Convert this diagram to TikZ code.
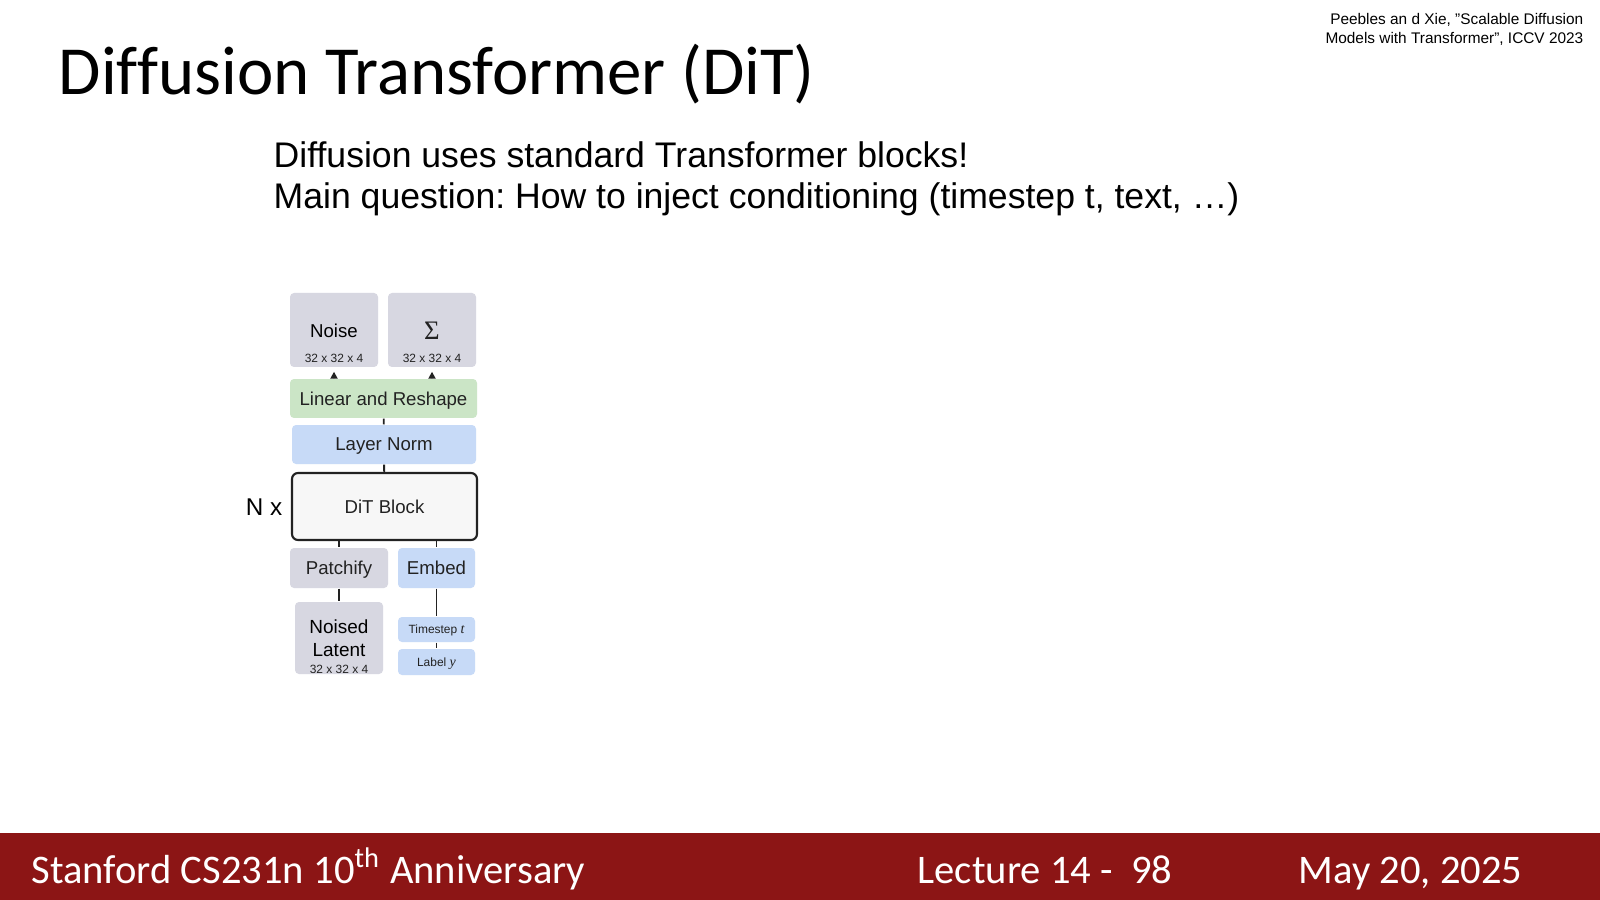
\documentclass[tikz,border=0pt]{standalone}
\usepackage{fontspec}
\setmainfont{Liberation Sans}
\newfontfamily\slidefont[Ligatures=NoCommon]{Carlito}
\newfontfamily\serifsym{Liberation Serif}
\usetikzlibrary{arrows.meta}
\frenchspacing

\definecolor{cardinal}{HTML}{8C1515}
\definecolor{latentgray}{HTML}{D7D7E1}
\definecolor{embedblue}{HTML}{C7DAF7}
\definecolor{lineargreen}{HTML}{CBE5C6}
\definecolor{blockfill}{HTML}{F7F7F7}
\definecolor{inkgray}{HTML}{222222}

\tikzset{
  box/.style={rectangle, rounded corners=0.4mm, inner sep=0pt, text=inkgray, text depth=0pt},
  graybox/.style={box, fill=latentgray},
  bluebox/.style={box, fill=embedblue},
  greenbox/.style={box, fill=lineargreen},
  boxfont/.style={font=\fontsize{5.3}{6.5}\selectfont},
  dimfont/.style={font=\fontsize{3.4}{4}\selectfont, text=inkgray, inner sep=0pt},
  smallfont/.style={font=\fontsize{3.4}{4}\selectfont},
  link/.style={draw=inkgray, line width=0.55pt},
  slidetext/.style={inner sep=0pt},
}

\begin{document}
\begin{tikzpicture}[x=0.1mm, y=-0.1mm]
			\useasboundingbox (0,0) rectangle (1600,900);
			\fill[white] (0,0) rectangle (1600,900);
			
			% Header
			\node[slidetext, anchor=base west, font=\slidefont\fontsize{19.6}{22}\selectfont] (title) at (58,95) {Diffusion Transformer (DiT)};
			\node[slidetext, anchor=base east, font=\fontsize{4.38}{5}\selectfont] (cite1) at (1584,25) {Peebles an d Xie, ”Scalable Diffusion};
			\node[slidetext, anchor=base east, font=\fontsize{4.38}{5}\selectfont] (cite2) at (1584,43.5) {Models with Transformer”, ICCV 2023};
			\node[slidetext, anchor=base west, font=\fontsize{10.13}{11.7}\selectfont] (sub1) at (273,168) {Diffusion uses standard Transformer blocks!};
			\node[slidetext, anchor=base west, font=\fontsize{10.13}{11.7}\selectfont] (sub2) at (273,209) {Main question: How to inject conditioning (timestep t, text, …)};
			
			% Outputs
			\node[graybox, minimum width=8.8mm, minimum height=7.4mm] (noise) at (334,330) {};
			\node[boxfont, inner sep=0pt] (noisetxt) at (334,331) {Noise};
			\node[dimfont] (noisedim) at (334,358.5) {32 x 32 x 4};
			\node[graybox, minimum width=8.8mm, minimum height=7.4mm] (sigma) at (432,330) {};
			\node[inner sep=0pt, text=inkgray, font=\serifsym\fontsize{7.6}{8}\selectfont] (sigmatxt) at (432,331) {Σ};
			\node[dimfont] (sigmadim) at (432,358.5) {32 x 32 x 4};
			
			% Head
			\node[greenbox, boxfont, minimum width=18.7mm, minimum height=3.9mm] (linear) at (383.5,398.5) {Linear and Reshape};
			\node[bluebox, boxfont, minimum width=18.4mm, minimum height=3.9mm] (layernorm) at (384,444.5) {Layer Norm};
			
			% Block
			\node[box, boxfont, fill=blockfill, draw=inkgray, line width=0.6pt, rounded corners=0.6mm, minimum width=18.5mm, minimum height=6.7mm] (dit) at (384.5,506.5) {DiT Block};
			\node[slidetext, font=\fontsize{6.9}{8}\selectfont] (repeat) at (264,507) {N x};
			
			% Inputs
			\node[graybox, boxfont, minimum width=9.8mm, minimum height=4mm] (patchify) at (339,568) {Patchify};
			\node[bluebox, boxfont, minimum width=7.7mm, minimum height=4mm] (embed) at (436.5,568) {Embed};
			\node[graybox, minimum width=8.8mm, minimum height=7.2mm] (noised) at (339,638) {};
			\node[boxfont, inner sep=0pt, align=center, text depth=0pt, font=\fontsize{5.4}{6.5}\selectfont] (noisedtxt) at (339,638.5) {Noised\\Latent};
			\node[dimfont] (noiseddim) at (339,669) {32 x 32 x 4};
			\node[bluebox, smallfont, minimum width=7.7mm, minimum height=2.5mm] (timestep) at (436.5,629.5) {Timestep {\serifsym\itshape\fontsize{4}{4}\selectfont t}};
			\node[bluebox, smallfont, minimum width=7.7mm, minimum height=2.6mm] (label) at (436.5,662) {Label {\serifsym\itshape\fontsize{4}{4}\selectfont y}};
			
			% Connections
			\draw[link] (linear) -- (layernorm);
			\draw[link] (layernorm) -- (dit);
			\draw[link] (dit.south -| patchify.north) -- (patchify.north);
			\draw[link] (dit.south -| embed.north) -- (embed.north);
			\draw[link] (patchify) -- (noised);
			\draw[link] (embed) -- (timestep);
			\draw[link] (timestep) -- (label);
			\draw[link, -{Triangle[length=2pt, width=2pt]}, shorten >=0.4mm] (linear.north -| noise.south) -- (noise.south);
			\draw[link, -{Triangle[length=2pt, width=2pt]}, shorten >=0.4mm] (linear.north -| sigma.south) -- (sigma.south);
			
			% Footer
			\fill[cardinal] (0,833) rectangle (1600,900);
			\node[slidetext, anchor=base west, text=white, font=\slidefont\fontsize{11.55}{13}\selectfont] (course) at (31,883) {Stanford CS231n 10\textsuperscript{th} Anniversary};
			\node[slidetext, anchor=base west, text=white, font=\slidefont\fontsize{11.55}{13}\selectfont] (lecture) at (917,883) {Lecture 14 -\ \ 98};
			\node[slidetext, anchor=base east, text=white, font=\slidefont\fontsize{11.55}{13}\selectfont] (date) at (1523,883) {May 20, 2025};
		\end{tikzpicture}
\end{document}
